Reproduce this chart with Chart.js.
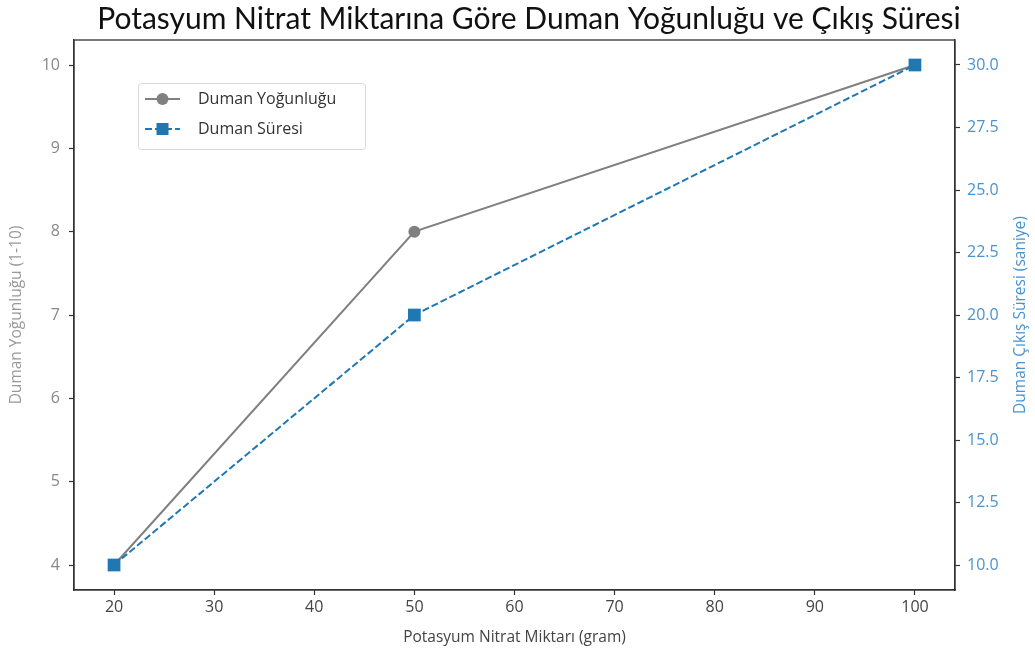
<!DOCTYPE html>
<html>
<head>
<meta charset="utf-8">
<script src="https://cdn.jsdelivr.net/npm/chart.js@4.4.1/dist/chart.umd.min.js"></script>
<style>
  html, body { margin: 0; padding: 0; background: #fff; }
  #wrap { width: 1035px; height: 659px; }
</style>
</head>
<body>
<div id="wrap"><canvas id="c"></canvas></div>
<script>
const nitrat = [20, 50, 100];
const yogunluk = [4, 8, 10];
const sure = [10, 20, 30];
const xTicks = [20, 30, 40, 50, 60, 70, 80, 90, 100];
const yTicks = [4, 5, 6, 7, 8, 9, 10];
const y1Ticks = [10, 12.5, 15, 17.5, 20, 22.5, 25, 27.5, 30];
const baslik = "Potasyum Nitrat Miktarına Göre Duman Yoğunluğu ve Çıkış Süresi";

const TFONT = "Lato, sans-serif";
const FONT = "'Open Sans', sans-serif";
const GRAY = "#808080";
const BLUE = "#1f77b4";
const BLUE_TXT = "#4a93cf";

const fixTicks = arr => scale => { scale.ticks = arr.map(v => ({ value: v })); };

// title, frame on top, right axis title, legend box
const extras = {
    id: "extras",
    afterDraw(chart) {
        const ctx = chart.ctx, a = chart.chartArea;
        ctx.save();
        ctx.fillStyle = "#111";
        ctx.font = "30px " + TFONT;
        ctx.textAlign = "center";
        ctx.textBaseline = "middle";
        ctx.fillText(baslik, 529, 19);

        ctx.strokeStyle = "#333";
        ctx.lineWidth = 1.3;
        ctx.strokeRect(a.left, a.top, a.right - a.left, a.bottom - a.top);

        // right axis title (bottom-to-top like the reference)
        ctx.translate(1021, (a.top + a.bottom) / 2);
        ctx.rotate(-Math.PI / 2);
        ctx.fillStyle = BLUE_TXT;
        ctx.font = "15.5px " + FONT;
        ctx.fillText("Duman Çıkış Süresi (saniye)", 0, 0);
        ctx.restore();

        // legend
        ctx.save();
        const lx = 138, ly = 83, lw = 227, lh = 66;
        ctx.fillStyle = "rgba(255,255,255,0.85)";
        ctx.strokeStyle = "#d9d9d9";
        ctx.lineWidth = 1;
        ctx.beginPath();
        ctx.roundRect(lx + 0.5, ly + 0.5, lw, lh, 3);
        ctx.fill();
        ctx.stroke();
        chart.data.datasets.forEach((ds, i) => {
            const y = ly + 16 + i * 30;
            ctx.strokeStyle = ds.borderColor;
            ctx.lineWidth = 2;
            ctx.setLineDash(ds.borderDash || []);
            ctx.beginPath();
            ctx.moveTo(lx + 7, y);
            ctx.lineTo(lx + 42, y);
            ctx.stroke();
            ctx.setLineDash([]);
            ctx.fillStyle = ds.pointBackgroundColor;
            if (ds.pointStyle === "rect") {
                ctx.fillRect(lx + 24.5 - 6, y - 6, 12, 12);
            } else {
                ctx.beginPath();
                ctx.arc(lx + 24.5, y, 6, 0, Math.PI * 2);
                ctx.fill();
            }
            ctx.fillStyle = "#333";
            ctx.font = "16px " + FONT;
            ctx.textAlign = "left";
            ctx.textBaseline = "middle";
            ctx.fillText(ds.label, lx + 60, y);
        });
        ctx.restore();
    }
};

new Chart(document.getElementById("c"), {
    type: "line",
    data: {
        datasets: [
            {
                label: "Duman Yoğunluğu",
                data: nitrat.map((x, i) => ({ x, y: yogunluk[i] })),
                yAxisID: "y",
                borderColor: GRAY,
                backgroundColor: GRAY,
                pointBackgroundColor: GRAY,
                pointBorderColor: GRAY,
                borderWidth: 2,
                pointStyle: "circle",
                pointRadius: 6,
                pointBorderWidth: 0,
                tension: 0,
                order: 1
            },
            {
                label: "Duman Süresi",
                data: nitrat.map((x, i) => ({ x, y: sure[i] })),
                yAxisID: "y1",
                borderColor: BLUE,
                backgroundColor: BLUE,
                pointBackgroundColor: BLUE,
                pointBorderColor: BLUE,
                borderWidth: 2,
                borderDash: [7, 3],
                pointStyle: "rect",
                pointRadius: 9,
                pointBorderWidth: 0,
                tension: 0,
                order: 0
            }
        ]
    },
    options: {
        responsive: true,
        maintainAspectRatio: false,
        animation: false,
        layout: { padding: { top: 40 } },
        plugins: {
            legend: { display: false },
            tooltip: { enabled: false },
            title: { display: false }
        },
        scales: {
            x: {
                type: "linear",
                min: 16,
                max: 104,
                afterBuildTicks: fixTicks(xTicks),
                afterFit: s => { s.height = 69; },
                ticks: { color: "#444", font: { family: FONT, size: 16 }, padding: 3 },
                grid: { drawOnChartArea: false, drawTicks: true, tickLength: 5, tickColor: "#333", tickWidth: 1.2 },
                border: { display: true, color: "#333", width: 1.3 },
                title: {
                    display: true,
                    text: "Potasyum Nitrat Miktarı (gram)",
                    color: "#444",
                    font: { family: FONT, size: 15.5 },
                    padding: { top: 4, bottom: 12 }
                }
            },
            y: {
                type: "linear",
                position: "left",
                min: 3.7,
                max: 10.3,
                afterBuildTicks: fixTicks(yTicks),
                afterFit: s => { s.width = 74; },
                ticks: { color: "#888", font: { family: FONT, size: 16 }, padding: 9 },
                grid: { drawOnChartArea: false, drawTicks: true, tickLength: 5, tickColor: "#333", tickWidth: 1.2 },
                border: { display: true, color: "#333", width: 1.3 },
                title: {
                    display: true,
                    text: "Duman Yoğunluğu (1-10)",
                    color: "#999",
                    font: { family: FONT, size: 15.5 },
                    padding: { top: 7, bottom: 4 }
                }
            },
            y1: {
                type: "linear",
                position: "right",
                min: 9.0,
                max: 31.0,
                afterBuildTicks: fixTicks(y1Ticks),
                afterFit: s => { s.width = 80; },
                ticks: {
                    color: BLUE_TXT,
                    font: { family: FONT, size: 16 },
                    padding: 7,
                    callback: v => v.toFixed(1)
                },
                grid: { drawOnChartArea: false, drawTicks: true, tickLength: 5, tickColor: "#333", tickWidth: 1.2 },
                border: { display: true, color: "#333", width: 1.3 }
            }
        }
    },
    plugins: [extras]
});
</script>
</body>
</html>
